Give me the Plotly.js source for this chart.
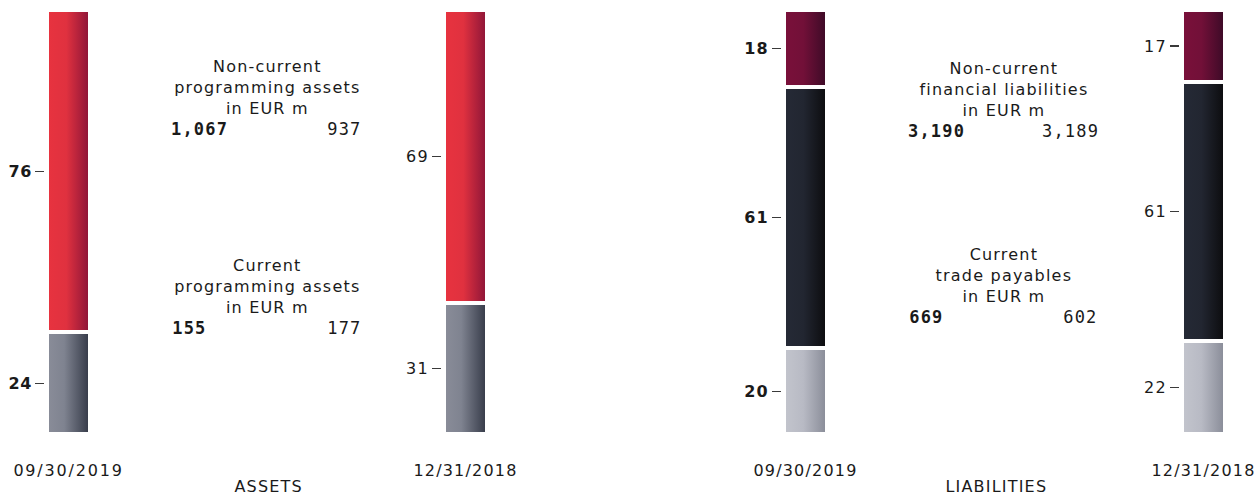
<!DOCTYPE html>
<html>
<head>
<meta charset="utf-8">
<script src="https://cdn.plot.ly/plotly-3.0.1.min.js"></script>
<style>
  html, body { margin: 0; padding: 0; background: #fff; }
  #chart { width: 1260px; height: 501px; }
  .main-svg text { letter-spacing: 1.2px; }
  .main-svg .xtick text { letter-spacing: 1.8px; }
  .main-svg .ytick text { letter-spacing: 0.5px; }
</style>
</head>
<body>
<div id="chart"></div>
<script>
// ---- Data (shares in %, amounts in EUR m) ----
const dates = ['09/30/2019', '12/31/2018'];

const assetsCurrentShare    = [24, 31];
const assetsNonCurrentShare = [76, 69];

const liabTradeShare     = [20, 22];
const liabFinancialShare = [61, 61];
const liabOtherShare     = [18, 17];

const progAssetsNonCurrent = [1067, 937];
const progAssetsCurrent    = [155, 177];
const finLiabNonCurrent    = [3190, 3189];
const tradePayables        = [669, 602];

const groupTitles = ['ASSETS', 'LIABILITIES'];

// ---- Styling ----
const TXT = '#1a1a1a';
const FONT = 'DejaVu Sans';
const MONO = 'DejaVu Sans Mono';

const segStyles = {
  red:    { solid: 'rgb(231,50,64)',  stops: [['0', '#e8333f'], ['0.45', '#e0313f'], ['1', '#8a1438']] },
  grey:   { solid: 'rgb(138,141,153)', stops: [['0', '#8a8d99'], ['0.4', '#7f8390'], ['1', '#333846']] },
  maroon: { solid: 'rgb(122,16,58)',  stops: [['0', '#7a103a'], ['0.45', '#721038'], ['1', '#3a0a26']] },
  dark:   { solid: 'rgb(36,40,52)',   stops: [['0', '#252a36'], ['0.45', '#222631'], ['1', '#0b0b0d']] },
  light:  { solid: 'rgb(194,196,205)', stops: [['0', '#c3c5cd'], ['0.45', '#b8bac4'], ['1', '#878a96']] }
};

// bar subplot definitions: [segments bottom->top]
const bars = [
  { date: 0, segs: [['Current programming assets', assetsCurrentShare[0], 'grey'], ['Non-current programming assets', assetsNonCurrentShare[0], 'red']], bold: true },
  { date: 1, segs: [['Current programming assets', assetsCurrentShare[1], 'grey'], ['Non-current programming assets', assetsNonCurrentShare[1], 'red']], bold: false },
  { date: 0, segs: [['Current trade payables', liabTradeShare[0], 'light'], ['Non-current financial liabilities', liabFinancialShare[0], 'dark'], ['Equity', liabOtherShare[0], 'maroon']], bold: true },
  { date: 1, segs: [['Current trade payables', liabTradeShare[1], 'light'], ['Non-current financial liabilities', liabFinancialShare[1], 'dark'], ['Equity', liabOtherShare[1], 'maroon']], bold: false }
];

const W = 1260, H = 501;
const xDomPx = [[45, 92], [442, 489], [782, 829], [1180, 1227]];
const yDom = [(H - 434) / H, (H - 10) / H];

const traces = [];
const layout = {
  width: W, height: H,
  margin: { l: 0, r: 0, t: 0, b: 0 },
  paper_bgcolor: '#fff', plot_bgcolor: '#fff',
  barmode: 'stack',
  bargap: 0.085,
  showlegend: false,
  font: { family: FONT, color: TXT, size: 16 },
  annotations: []
};

bars.forEach((b, i) => {
  const n = i + 1;
  const xa = n === 1 ? 'x' : 'x' + n;
  const ya = n === 1 ? 'y' : 'y' + n;
  let cum = 0;
  const tickvals = [], ticktext = [];
  b.segs.forEach(([name, val, style]) => {
    traces.push({
      type: 'bar', name: name,
      x: [dates[b.date]], y: [val],
      xaxis: xa, yaxis: ya,
      marker: { color: segStyles[style].solid, line: { color: '#ffffff', width: 4 } },
      hoverinfo: 'skip'
    });
    tickvals.push(cum + val / 2);
    ticktext.push(String(val));
    cum += val;
  });
  layout['xaxis' + (n === 1 ? '' : n)] = {
    domain: [xDomPx[i][0] / W, xDomPx[i][1] / W],
    anchor: ya, type: 'category', range: [-0.5, 0.5],
    ticks: 'outside', ticklen: 22, tickcolor: 'rgba(0,0,0,0)',
    showline: false, showgrid: false, zeroline: false, automargin: false,
    tickfont: { family: FONT, size: 16, color: TXT }, fixedrange: true
  };
  layout['yaxis' + (n === 1 ? '' : n)] = {
    domain: yDom, anchor: xa, range: [0, cum],
    tickmode: 'array', tickvals: tickvals, ticktext: ticktext,
    ticks: 'outside', ticklen: 9, tickwidth: 1.2, tickcolor: '#3a3a3a',
    showline: false, showgrid: false, zeroline: false, automargin: false,
    tickfont: { family: FONT, size: 16, color: TXT, weight: b.bold ? 'bold' : 'normal' },
    fixedrange: true
  };
});

// ---- Text annotations ----
const fmt = v => v.toLocaleString('en-US');
const px = x => x / W;
const py = y => (H - y) / H;

function block(cx, cy, lines, lx, rx, vals) {
  layout.annotations.push({
    xref: 'paper', yref: 'paper', x: px(cx), y: py(cy), xanchor: 'center', yanchor: 'middle',
    text: lines.join('<br>'), showarrow: false, align: 'center',
    font: { family: FONT, size: 16, color: TXT }
  });
  const vy = cy + 42;
  layout.annotations.push({
    xref: 'paper', yref: 'paper', x: px(lx), y: py(vy), xanchor: 'left', yanchor: 'middle',
    text: fmt(vals[0]), showarrow: false,
    font: { family: MONO, size: 17, color: TXT, weight: 'bold' }
  });
  layout.annotations.push({
    xref: 'paper', yref: 'paper', x: px(rx), y: py(vy), xanchor: 'right', yanchor: 'middle',
    text: fmt(vals[1]), showarrow: false,
    font: { family: MONO, size: 17, color: TXT }
  });
}

block(267.5, 87, ['Non-current', 'programming assets', 'in EUR m'], 172, 362, progAssetsNonCurrent);
block(267.5, 286, ['Current', 'programming assets', 'in EUR m'], 172, 362, progAssetsCurrent);
block(1004, 89, ['Non-current', 'financial liabilities', 'in EUR m'], 909, 1098, finLiabNonCurrent);
block(1004, 275, ['Current', 'trade payables', 'in EUR m'], 909, 1098, tradePayables);

layout.annotations.push({
  xref: 'paper', yref: 'paper', x: px(268), y: py(486), xanchor: 'center', yanchor: 'middle',
  text: groupTitles[0], showarrow: false, font: { family: FONT, size: 16, color: TXT }
});
layout.annotations.push({
  xref: 'paper', yref: 'paper', x: px(996), y: py(486), xanchor: 'center', yanchor: 'middle',
  text: groupTitles[1], showarrow: false, font: { family: FONT, size: 16, color: TXT }
});

const gd = document.getElementById('chart');
Plotly.newPlot(gd, traces, layout, { staticPlot: true, displayModeBar: false }).then(() => {
  const svg = gd.querySelector('svg.main-svg');
  let defs = svg.querySelector('defs');
  if (!defs) { defs = document.createElementNS('http://www.w3.org/2000/svg', 'defs'); svg.insertBefore(defs, svg.firstChild); }
  const map = {};
  Object.keys(segStyles).forEach(k => {
    const g = document.createElementNS('http://www.w3.org/2000/svg', 'linearGradient');
    g.setAttribute('id', 'grad-' + k);
    g.setAttribute('x1', '0'); g.setAttribute('x2', '1'); g.setAttribute('y1', '0'); g.setAttribute('y2', '0');
    segStyles[k].stops.forEach(([off, col]) => {
      const s = document.createElementNS('http://www.w3.org/2000/svg', 'stop');
      s.setAttribute('offset', off); s.setAttribute('stop-color', col);
      g.appendChild(s);
    });
    defs.appendChild(g);
    map[segStyles[k].solid.replace(/\s/g, '')] = 'url(#grad-' + k + ')';
  });
  gd.querySelectorAll('.barlayer .point path').forEach(p => {
    const f = (p.style.fill || '').replace(/\s/g, '');
    if (map[f]) p.style.fill = map[f];
  });
});
</script>
</body>
</html>
